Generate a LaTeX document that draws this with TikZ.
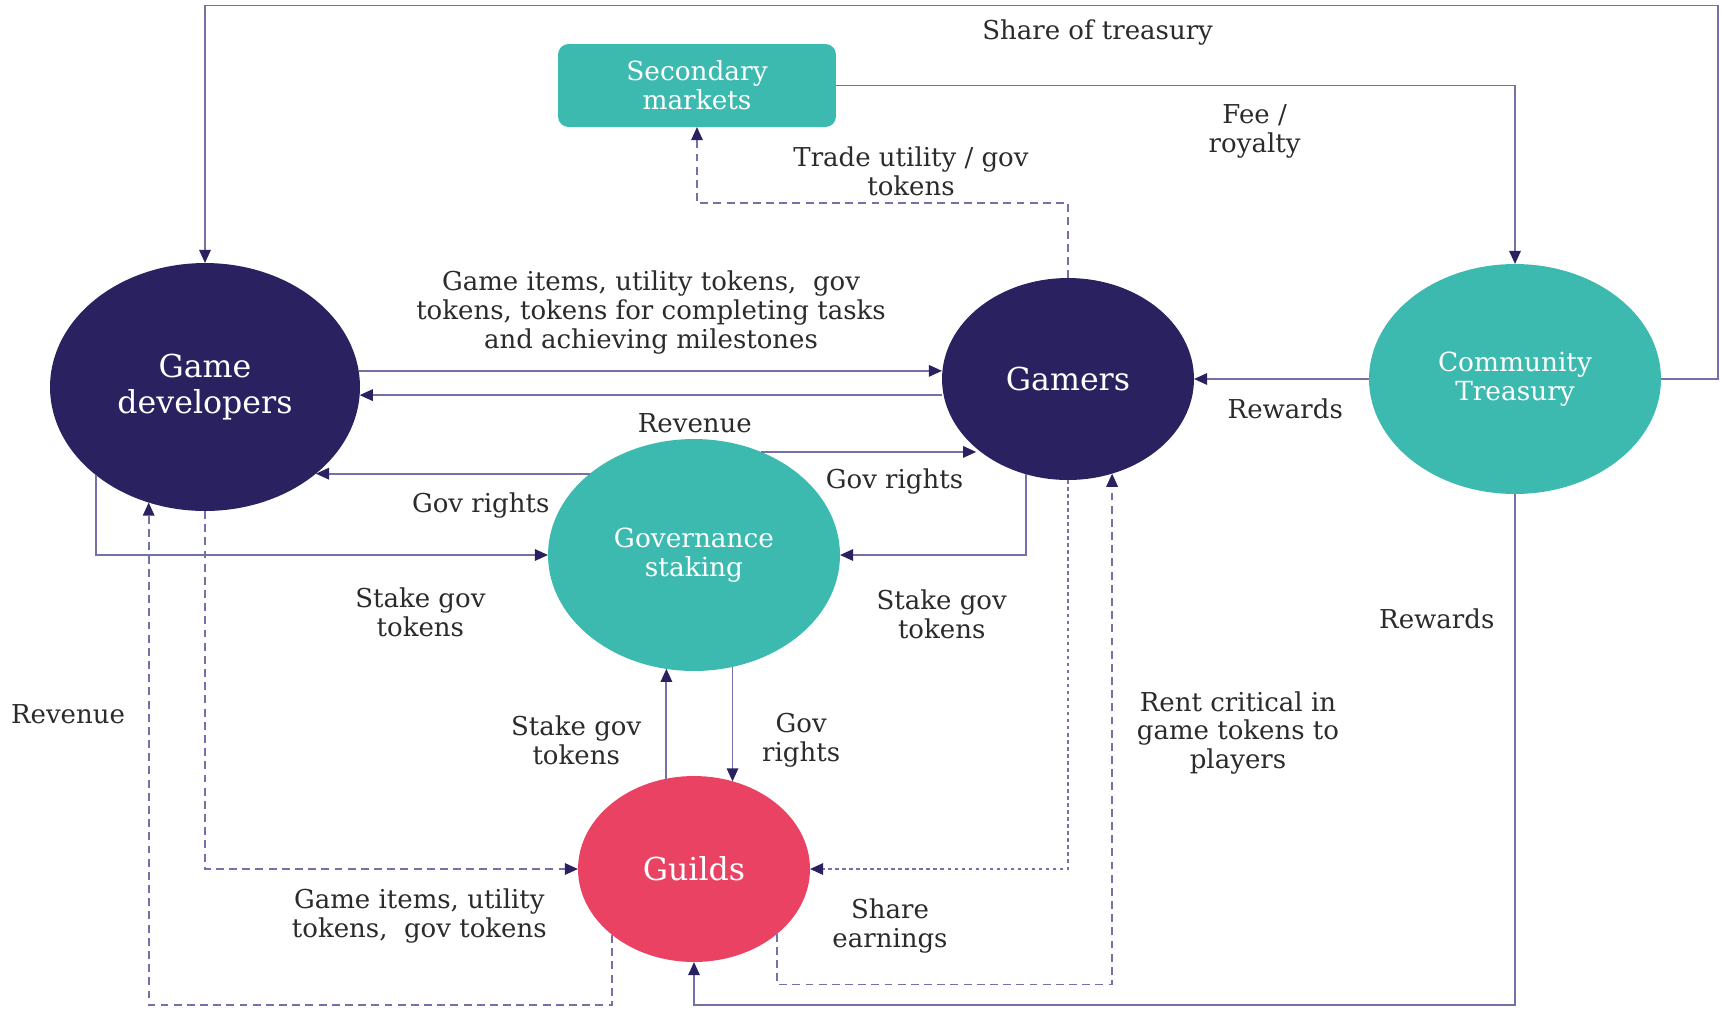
\documentclass[tikz,border=0pt]{standalone}
\usepackage{fontspec}
\setmainfont{DejaVu Serif}
\usetikzlibrary{shapes.geometric,arrows.meta}
\definecolor{navy}{HTML}{2A2160}
\definecolor{teal}{HTML}{3CBAB0}
\definecolor{pink}{HTML}{E94263}
\definecolor{lnc}{HTML}{7471A8}
\definecolor{txt}{HTML}{2B2B2B}
\tikzset{
  circ/.style={ellipse, inner sep=0pt, outer sep=0pt, align=center, text=white},
  bigtxt/.style={font=\fontsize{18}{20.5}\selectfont},
  smltxt/.style={font=\fontsize{15}{16.5}\selectfont},
  lbl/.style={font=\fontsize{14.8}{16.5}\selectfont, text=txt, align=center, inner sep=0pt, yshift=-1.7pt},
  arr/.style={draw=lnc, line width=1.1pt, -{Triangle[length=7.5pt,width=6.5pt,color=navy]}},
  dsh/.style={arr, dash pattern=on 4.5pt off 3pt},
  dot/.style={arr, dash pattern=on 2pt off 2pt},
}
\begin{document}
\begin{tikzpicture}[x=0.02cm, y=-0.02cm]
\useasboundingbox (0,0) rectangle (1721,1009);
% nodes
\node[circ, bigtxt, fill=navy, minimum width=6.2cm, minimum height=4.96cm] (GD) at (205,387) {Game\\developers};
\node[circ, bigtxt, fill=navy, minimum width=5.04cm, minimum height=4.04cm] (GM) at (1068,379) {Gamers};
\node[circ, smltxt, fill=teal, minimum width=5.84cm, minimum height=4.6cm] (CT) at (1515,379) {Community\\Treasury};
\node[circ, smltxt, fill=teal, minimum width=5.84cm, minimum height=4.64cm] (GS) at (694,555) {Governance\\staking};
\node[circ, bigtxt, fill=pink, minimum width=4.64cm, minimum height=3.72cm] (GU) at (694,869) {Guilds};
\node[rectangle, rounded corners=6pt, smltxt, fill=teal, text=white, align=center, minimum width=5.56cm, minimum height=1.66cm, inner sep=0pt, outer sep=0pt] (SM) at (697,85.5) {Secondary\\markets};
\coordinate (tr) at (1718,5.5);
\coordinate (bot) at (0,1005);
% connectors
\draw[arr] (CT.east) -| (tr) -| (GD.north);
\draw[arr] (SM.east) -| (CT.north);
\draw[dsh] (GM.north) -- ++(0,-75) -| (SM.south);
\draw[arr] (GD.6.3) -- (GM.west |- GD.6.3);
\draw[arr] (GM.west |- GD.-3.7) -- (GD.-3.7);
\draw[arr] (GS.57) -- (GM.217.6 |- GS.57);
\draw[arr] (GS.142.9) -- (GD.-38.9 |- GS.142.9);
\draw[arr] (GD.219.3) |- (GS.west);
\draw[arr] (GM.246.2) |- (GS.east);
\draw[arr] (GU.107.2) -- (GU.107.2 |- GS.256.2);
\draw[arr] (GS.-71.3) -- (GS.-71.3 |- GU.66.6);
\draw[dsh] (GD.south) |- (GU.west);
\draw[dot] (GM.south) |- (GU.east);
\draw[dsh] (GU.-38.1) -- ++(0,50.6) -| (GM.-65.6);
\draw[dsh] (GU.219.1) -- (GU.219.1 |- bot) -| (GD.244.8);
\draw[arr] (CT.south) -- (CT.south |- bot) -| (GU.south);
\draw[arr] (CT.west) -- (GM.east);
% labels
\node[lbl] (l1) at (1097.6,29.6) {Share of treasury};
\node[lbl] (l2) at (1254.6,128.4) {Fee /\\royalty};
\node[lbl] (l3) at (911,168) {Trade utility / gov\\tokens};
\node[lbl] (l4) at (651,309.5) {Game items, utility tokens,\ \ gov\\tokens, tokens for completing tasks\\and achieving milestones};
\node[lbl] (l5) at (694.8,420.4) {Revenue};
\node[lbl] (l6) at (894.5,478.6) {Gov rights};
\node[lbl] (l7) at (480.7,502.7) {Gov rights};
\node[lbl] (l8) at (420.4,609) {Stake gov\\tokens};
\node[lbl] (l9) at (941.7,611.4) {Stake gov\\tokens};
\node[lbl] (l10) at (1285.3,406) {Rewards};
\node[lbl] (l11) at (1436.8,615.8) {Rewards};
\node[lbl] (l12) at (576.2,737.6) {Stake gov\\tokens};
\node[lbl] (l13) at (801.2,737.6) {Gov\\rights};
\node[lbl] (l14) at (68,711.2) {Revenue};
\node[lbl] (l15) at (1238,730) {Rent critical in\\game tokens to\\players};
\node[lbl] (l16) at (419.3,913.2) {Game items, utility\\tokens,\ \ gov tokens};
\node[lbl] (l17) at (890,923) {Share\\earnings};
\end{tikzpicture}
\end{document}
